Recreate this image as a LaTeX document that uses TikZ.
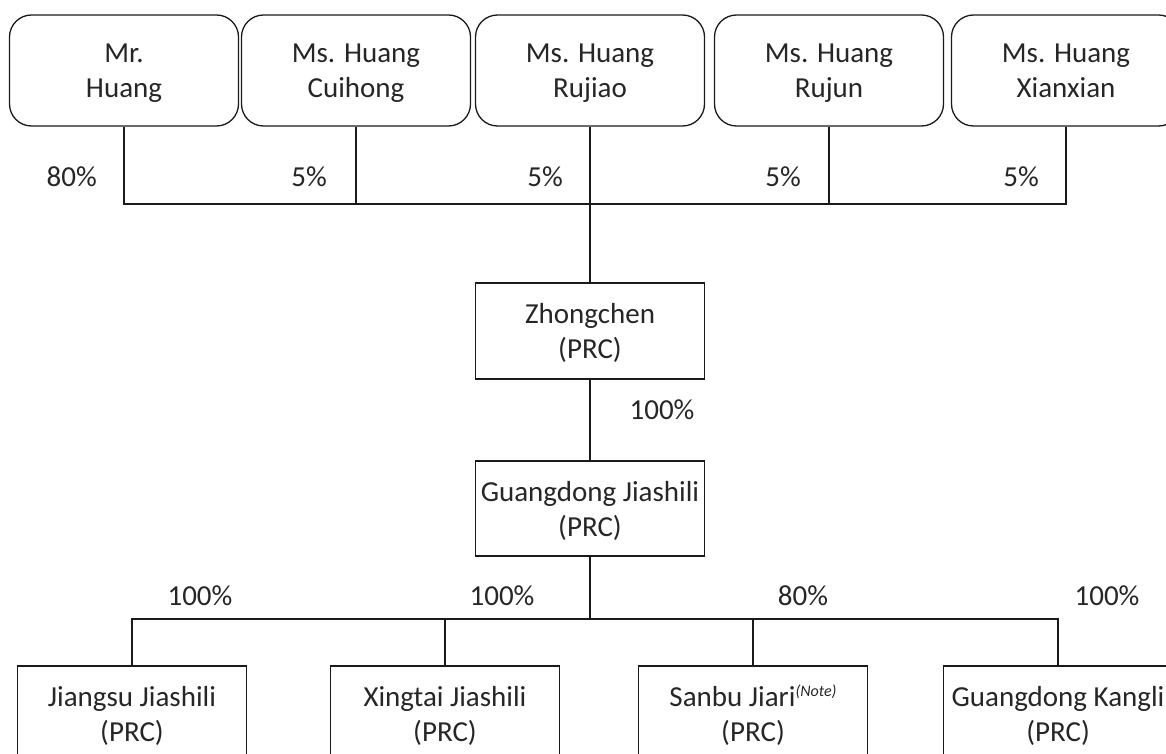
\documentclass[tikz,border=0pt]{standalone}
\usepackage{fontspec}
\setmainfont{Carlito}
\definecolor{txt}{HTML}{262626}
\definecolor{ln}{HTML}{1A1A1A}
\newcommand{\ls}{\rule[-7.5pt]{0pt}{35pt}}
\begin{document}
\begin{tikzpicture}[x=1pt,y=-1pt,
  every node/.style={font=\fontsize{29}{35}\selectfont, text=txt},
  owner/.style={draw=ln, line width=1.3pt, rounded corners=22pt, minimum width=229pt, minimum height=111pt, align=center, inner sep=0pt},
  entity/.style={draw=ln, line width=1.3pt, minimum width=229pt, minimum height=96pt, align=center, inner sep=0pt},
  link/.style={draw=ln, line width=1.3pt},
  pct/.style={inner sep=0pt}]
\useasboundingbox (0,0) rectangle (1166,754);
\clip (0,0) rectangle (1166,754);

% owners
\node[owner] (mr)  at (124,70.5)  {\ls Mr.\\\ls Huang};
\node[owner] (cui) at (356,70.5)  {\ls Ms. Huang\\\ls Cuihong};
\node[owner] (ruj) at (590,70.5)  {\ls Ms. Huang\\\ls Rujiao};
\node[owner] (rjn) at (829,70.5)  {\ls Ms. Huang\\\ls Rujun};
\node[owner] (xx)  at (1066,70.5) {\ls Ms. Huang\\\ls Xianxian};

% entities
\node[entity] (zc) at (590,331)   {\ls Zhongchen\\\ls (PRC)};
\node[entity, minimum height=95pt] (gj) at (590,508.5) {\ls Guangdong Jiashili\\\ls (PRC)};
\node[entity] (js) at (132,714)   {\ls Jiangsu Jiashili\\\ls (PRC)};
\node[entity] (xt) at (445,714)   {\ls Xingtai Jiashili\\\ls (PRC)};
\node[entity] (sb) at (753,714)   {\ls Sanbu Jiari\raisebox{10pt}{\fontsize{16}{16}\selectfont\itshape(Note)}\\\ls (PRC)};
\node[entity] (gk) at (1058,714)  {\ls Guangdong Kangli\\\ls (PRC)};

\coordinate (topbus) at (590,204);
\coordinate (botbus) at (590,619);

% top connectors
\draw[link] (mr.south) -- (mr.south |- topbus) -- (xx.south |- topbus) -- (xx.south);
\draw[link] (cui.south) -- (cui.south |- topbus);
\draw[link] (rjn.south) -- (rjn.south |- topbus);
\draw[link] (ruj.south) -- (zc.north);
\draw[link] (zc.south) -- (gj.north);
\draw[link] (gj.south) -- (botbus);
\draw[link] (js.north) -- (js.north |- botbus) -- (gk.north |- botbus) -- (gk.north);
\draw[link] (xt.north) -- (xt.north |- botbus);
\draw[link] (sb.north) -- (sb.north |- botbus);

% percentages
\node[pct, anchor=east] (p1) at (97,177)   {80\%};
\node[pct, anchor=east] (p2) at (327,177)  {5\%};
\node[pct, anchor=east] (p3) at (563,177)  {5\%};
\node[pct, anchor=east] (p4) at (801,177)  {5\%};
\node[pct, anchor=east] (p5) at (1039,177) {5\%};
\node[pct] (p6) at (662,410)  {100\%};
\node[pct] (p7) at (200,596)  {100\%};
\node[pct] (p8) at (502,596)  {100\%};
\node[pct] (p9) at (803,596)  {80\%};
\node[pct] (p10) at (1107,596) {100\%};
\end{tikzpicture}
\end{document}
